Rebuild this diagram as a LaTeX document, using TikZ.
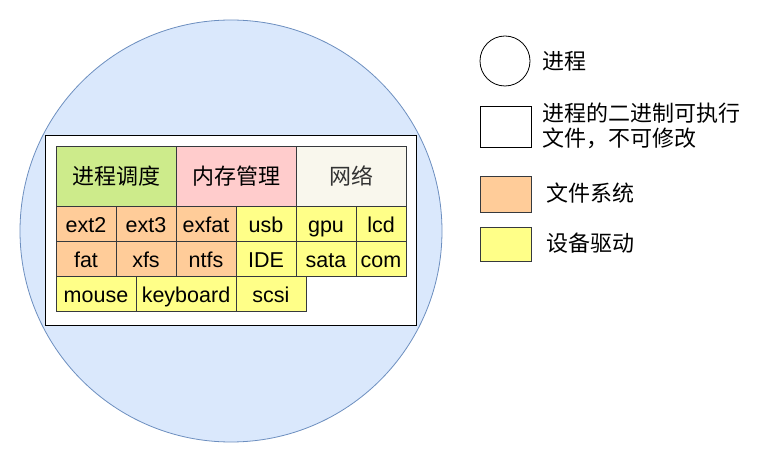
\documentclass[tikz,border=0pt]{standalone}
\usepackage{fontspec}
\setmainfont{Liberation Sans}
\newfontfamily\cjk{Noto Sans CJK SC}
\usetikzlibrary{positioning}
\definecolor{procfill}{HTML}{DAE8FC}
\definecolor{procline}{HTML}{6C8EBF}
\definecolor{schedfill}{HTML}{CDEB8B}
\definecolor{memfill}{HTML}{FFCCCC}
\definecolor{netfill}{HTML}{F9F7ED}
\definecolor{fsfill}{HTML}{FFCC99}
\definecolor{drvfill}{HTML}{FFFF88}
\definecolor{cellline}{HTML}{36393D}
\tikzset{
    cell/.style={
        draw=cellline,
        line width=0.8pt,
        minimum width=60,
        minimum height=35,
        inner sep=0pt,
        outer sep=0pt,
        text height=18pt,
        text depth=0pt,
        font=\fontsize{21.5}{25}\selectfont
    },
    fscell/.style={
        cell,
        fill=fsfill
    },
    drvcell/.style={
        cell,
        fill=drvfill
    },
    bigcell/.style={
        cell,
        minimum width=120,
        minimum height=60,
        font=\fontsize{22}{25}\selectfont\cjk
    },
    legtext/.style={
        anchor=west,
        align=left,
        inner sep=0pt,
        font=\fontsize{22}{25}\selectfont\cjk
    }
}

\begin{document}
\begin{tikzpicture}[x=1pt, y=-1pt]
      \useasboundingbox (0,0) rectangle (772,462);

      % process and its executable
      \node[circle, draw=procline, fill=procfill, line width=0.8pt, minimum size=422, inner sep=0pt] (proc) at (231,231) {};
      \node[draw=black, fill=white, line width=0.8pt, minimum width=371, minimum height=190, inner sep=0pt] (exe) at (230.5,230) {};

      % kernel modules
      \node[bigcell, fill=schedfill, anchor=north west] (sched) at (56,146) {进程调度};
      \node[bigcell, fill=memfill, right=0pt of sched] (mem) {内存管理};
      \node[bigcell, fill=netfill, minimum width=110, text=black!80, right=0pt of mem] (net) {网络};

      \node[fscell, anchor=north west] (ext2) at (sched.south west) {ext2};
      \node[fscell, right=0pt of ext2] (ext3) {ext3};
      \node[fscell, right=0pt of ext3] (exfat) {exfat};
      \node[drvcell, right=0pt of exfat] (usb) {usb};
      \node[drvcell, right=0pt of usb] (gpu) {gpu};
      \node[drvcell, minimum width=50, right=0pt of gpu] (lcd) {lcd};

      \node[fscell, below=0pt of ext2] (fat) {fat};
      \node[fscell, right=0pt of fat] (xfs) {xfs};
      \node[fscell, right=0pt of xfs] (ntfs) {ntfs};
      \node[drvcell, right=0pt of ntfs] (ide) {IDE};
      \node[drvcell, right=0pt of ide] (sata) {sata};
      \node[drvcell, minimum width=50, right=0pt of sata] (com) {com};

      \node[drvcell, minimum width=80, anchor=north west] (mouse) at (fat.south west) {mouse};
      \node[drvcell, minimum width=100, right=0pt of mouse] (keyboard) {keyboard};
      \node[drvcell, minimum width=70, right=0pt of keyboard] (scsi) {scsi};

      % legend
      \node[circle, draw=black, fill=white, line width=0.8pt, minimum size=50, inner sep=0pt] (legproc) at (505,61) {};
      \node[legtext] (legproctext) at (542,61) {进程};
      \node[draw=black, fill=white, line width=0.8pt, minimum width=51, minimum height=41, inner sep=0pt] (legexe) at (505.5,126.5) {};
      \node[legtext] (legexetext) at (542,125.5) {进程的二进制可执行\\文件，不可修改};
      \node[fscell, minimum width=51, minimum height=36] (legfs) at (505.5,194) {};
      \node[legtext] (legfstext) at (546,193) {文件系统};
      \node[drvcell, minimum width=51, minimum height=34] (legdrv) at (505.5,244) {};
      \node[legtext] (legdrvtext) at (546,243) {设备驱动};

    \end{tikzpicture}
\end{document}
